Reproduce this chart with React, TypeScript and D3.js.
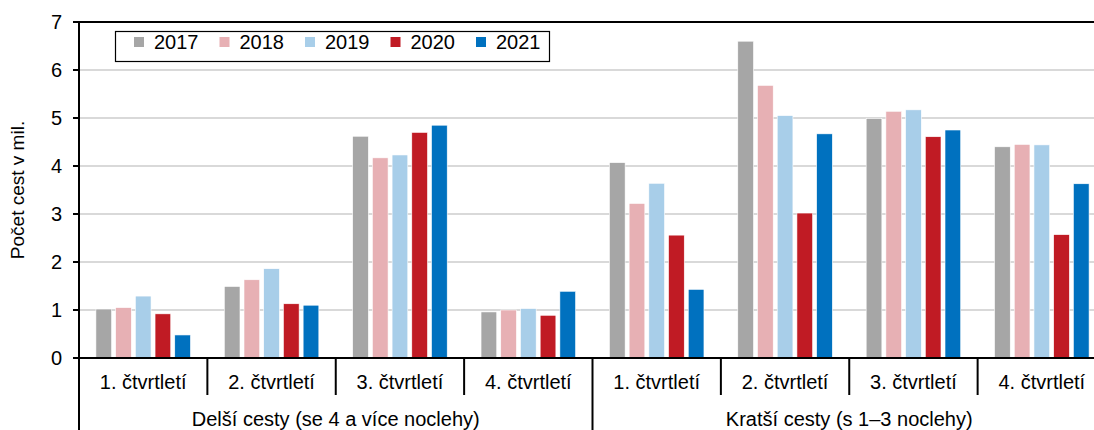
import React from "react";
import * as d3 from "d3";

const years = ["2017", "2018", "2019", "2020", "2021"];
const colors = ["#A6A6A6", "#E7B0B4", "#A8CEE9", "#C01B24", "#0071BF"];
const quarters = ["1. čtvrtletí", "2. čtvrtletí", "3. čtvrtletí", "4. čtvrtletí"];
const groups = ["Delší cesty (se 4 a více noclehy)", "Kratší cesty (s 1–3 noclehy)"];

// values per group, per quarter, per year (2017..2021)
const longerTrips = [
  [1.02, 1.05, 1.29, 0.92, 0.48],
  [1.49, 1.63, 1.86, 1.13, 1.1],
  [4.62, 4.17, 4.23, 4.7, 4.85],
  [0.96, 1.0, 1.03, 0.89, 1.39],
];
const shorterTrips = [
  [4.07, 3.22, 3.64, 2.56, 1.43],
  [6.6, 5.68, 5.05, 3.02, 4.67],
  [4.99, 5.14, 5.17, 4.61, 4.75],
  [4.4, 4.45, 4.44, 2.57, 3.63],
];
const yTicks = [0, 1, 2, 3, 4, 5, 6, 7];
const yTitle = "Počet cest v mil.";

const W = 1094;
const H = 430;
const left = 79;
const right = 1106;
const top = 22;
const bottom = 358;
const FONT = "'Liberation Sans', Arial, sans-serif";

export default function App() {
  const groupData = [longerTrips, shorterTrips];
  const cats = groupData.flatMap((g, gi) => g.map((vals, qi) => ({ key: `${gi}-${qi}`, gi, qi, vals })));
  const x = d3.scaleBand<string>().domain(cats.map((c) => c.key)).range([left, right]).padding(0);
  const xi = d3
    .scaleBand<string>()
    .domain(years)
    .range([0, x.bandwidth()])
    .paddingInner(0.203)
    .paddingOuter(0.858);
  const y = d3.scaleLinear().domain([0, 7]).range([bottom, top]);
  const groupX = d3.scaleBand<number>().domain([0, 1]).range([left, right]).padding(0);

  return (
    <div style={{ position: "absolute", left: 0, top: 0 }}>
      <svg width={W} height={H} style={{ display: "block", fontFamily: FONT }}>
        <rect x={0} y={0} width={W} height={H} fill="#fff" />
        {/* gridlines */}
        {yTicks
          .filter((t) => t > 0 && t < 7)
          .map((t) => (
            <line key={t} x1={left} x2={right} y1={y(t)} y2={y(t)} stroke="#D9D9D9" strokeWidth={2} />
          ))}
        <line x1={left} x2={right} y1={y(7)} y2={y(7)} stroke="#000" strokeWidth={2} />
        {/* bars */}
        {cats.map((c) =>
          c.vals.map((v, i) => (
            <rect
              key={c.key + i}
              x={(x(c.key) as number) + (xi(years[i]) as number)}
              y={y(v)}
              width={xi.bandwidth()}
              height={y(0) - y(v)}
              fill={colors[i]}
              stroke="#fff"
              strokeWidth={0.6}
            />
          ))
        )}
        {/* y axis */}
        <line x1={left} x2={left} y1={top - 1} y2={H} stroke="#000" strokeWidth={2} />
        {yTicks.map((t) => (
          <g key={t}>
            <line x1={left - 6} x2={left} y1={y(t)} y2={y(t)} stroke="#000" strokeWidth={2} />
            <text x={left - 17} y={y(t)} dy="0.35em" textAnchor="end" fontSize={20} fill="#000">
              {t}
            </text>
          </g>
        ))}
        <text
          transform={`translate(24,${(top + bottom) / 2}) rotate(-90)`}
          textAnchor="middle"
          fontSize={19}
          fill="#000"
        >
          {yTitle}
        </text>
        {/* x axis */}
        <line x1={left} x2={right} y1={bottom} y2={bottom} stroke="#000" strokeWidth={2} />
        {cats.map((c) => {
          const x0 = x(c.key) as number;
          const isGroupEdge = c.qi === 0;
          return (
            <g key={c.key}>
              <line x1={x0} x2={x0} y1={bottom} y2={isGroupEdge ? H : 395} stroke="#000" strokeWidth={2} />
              <text x={x0 + x.bandwidth() / 2} y={389} textAnchor="middle" fontSize={20} fill="#000">
                {quarters[c.qi]}
              </text>
            </g>
          );
        })}
        <line x1={right} x2={right} y1={bottom} y2={H} stroke="#000" strokeWidth={2} />
        {groups.map((g, gi) => (
          <text
            key={g}
            x={(groupX(gi) as number) + groupX.bandwidth() / 2}
            y={426}
            textAnchor="middle"
            fontSize={20}
            fill="#000"
          >
            {g}
          </text>
        ))}
        {/* legend */}
        <rect x={115.5} y={31.5} width={434} height={30} fill="#fff" stroke="#000" strokeWidth={1.2} />
        {years.map((yr, i) => {
          const lx = 134 + i * 85.5;
          return (
            <g key={yr}>
              <rect x={lx} y={37} width={10} height={10} fill={colors[i]} />
              <text x={lx + 20} y={42} dy="0.35em" fontSize={20} fill="#000">
                {yr}
              </text>
            </g>
          );
        })}
      </svg>
    </div>
  );
}
